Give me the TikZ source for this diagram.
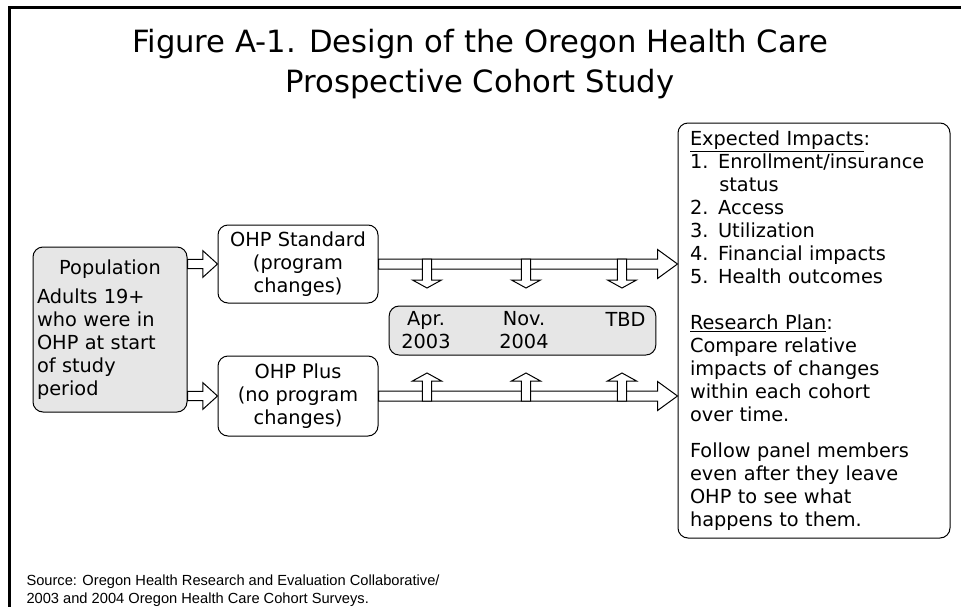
\documentclass[tikz,border=0pt]{standalone}
\usepackage{fontspec}
\setmainfont{DejaVu Sans}
\newfontfamily\srcfont{Liberation Sans}
\usetikzlibrary{calc}

\tikzset{
	head length/.store in=\baLength, 
	head length = 15pt,
	head half/.store in=\baHalf, 
	head half = 10.9pt,
	shaft half/.store in=\baShaft, 
	shaft half = 3.75pt}
\tikzset{every picture/.style={line width=0.75pt}}
\tikzset{
	blockarrow/.style={fill=white, to path={
		($(\tikztostart)!\baShaft!90:(\tikztotarget)$)
		-- ($(\tikztotarget)!\baLength!(\tikztostart)!\baShaft!90:(\tikztotarget)$)
		-- ($(\tikztotarget)!\baLength!(\tikztostart)!\baHalf!90:(\tikztotarget)$)
		-- (\tikztotarget)
		-- ($(\tikztotarget)!\baLength!(\tikztostart)!\baHalf!-90:(\tikztotarget)$)
		-- ($(\tikztotarget)!\baLength!(\tikztostart)!\baShaft!-90:(\tikztotarget)$)
		-- ($(\tikztostart)!\baShaft!-90:(\tikztotarget)$) -- cycle}}}

\begin{document}
\begin{tikzpicture}[x=0.75pt,y=0.75pt,yscale=-1,xscale=1,
	rbox/.style={draw, rounded corners=7.5pt, inner sep=0pt, align=center, font=\fontsize{14.5}{17.25}\selectfont},
	graybox/.style={rbox, fill={rgb, 255:red, 230; green, 230; blue, 230 }},
	datetext/.style={align=center, inner sep=0.75pt, font=\fontsize{14.5}{17.25}\selectfont}]
	\useasboundingbox (0,0) rectangle (961,607);
	
	%Straight Lines [frame] 
	\draw [line width=2.25pt]  (961,7.5) -- (9.5,7.5) -- (9.5,607) ;
	
	% Text Node
	\draw (480,64) node (title) [align=center, font=\fontsize{23}{30}\selectfont] {Figure A-1. Design of the Oregon Health Care\\Prospective Cohort Study};
	
	%Shape: Rounded Rect [population] 
	\draw (110,329.5) node (pop) [graybox, minimum width=115.5pt, minimum height=123.75pt, text width=109.5pt, align=left] {\makebox[\linewidth]{Population}\\[5pt]Adults 19+\\who were in\\OHP at start\\of study\\period};
	%Shape: Rounded Rect [cohorts] 
	\draw (298,264) node (std) [rbox, minimum width=120pt, minimum height=58.5pt] {OHP Standard\\(program\\changes)};
	\draw (298,396) node (plus) [rbox, minimum width=120pt, minimum height=60pt] {OHP Plus\\(no program\\changes)};
	%Shape: Rounded Rect [survey waves] 
	\draw (522.5,330.5) node (dates) [graybox, minimum width=200pt, minimum height=36.75pt] {};
	%Shape: Rounded Rect [impacts] 
	\draw (814,330.5) node (impacts) [rbox, minimum width=204pt, minimum height=311.25pt, text width=186pt, align=left] {\underline{Expected Impacts}:\\1. Enrollment/insurance\\\hspace*{22pt}status\\2. Access\\3. Utilization\\4. Financial impacts\\5. Health outcomes\\[17pt]\underline{Research Plan}:\\Compare relative\\impacts of changes\\within each cohort\\over time.\\[10pt]Follow panel members\\even after they leave\\OHP to see what\\happens to them.};
	
	% Text Node
	\draw (426,330.5) node (apr) [datetext] {Apr.\\2003};
	% Text Node
	\draw (524,330.5) node (nov) [datetext] {Nov.\\2004};
	% Text Node
	\draw (625.5,319) node (tbd) [datetext] {TBD};
	
	\coordinate (stdend) at (std -| impacts.west);
	\coordinate (plusend) at (plus -| impacts.west);
	\coordinate (dn1) at (427,259);
	\coordinate (dn1tip) at (427,288);
	\coordinate (dn2) at (526,259);
	\coordinate (dn2tip) at (526,288);
	\coordinate (dn3) at (622,259);
	\coordinate (dn3tip) at (622,288);
	\coordinate (up1) at (427,401);
	\coordinate (up1tip) at (427,373);
	\coordinate (up2) at (526,401);
	\coordinate (up2tip) at (526,373);
	\coordinate (up3) at (622,401);
	\coordinate (up3tip) at (622,373);
	
	%Block Arrows [population to cohorts] 
	\draw [blockarrow, head length=11pt, head half=10pt, shaft half=3.4pt]  (pop.east |- std) to (std.west) ;
	\draw [blockarrow, head length=11pt, head half=10pt, shaft half=3.4pt]  (pop.east |- plus) to (plus.west) ;
	%Block Arrows [cohorts to impacts] 
	\draw [blockarrow]  (std.east) to (stdend) ;
	\draw [blockarrow]  (plus.east) to (plusend) ;
	%Block Arrows [survey waves] 
	\draw [blockarrow, head length=6pt, shaft half=3.4pt]  (dn1) to (dn1tip) ;
	\draw [blockarrow, head length=6pt, shaft half=3.4pt]  (dn2) to (dn2tip) ;
	\draw [blockarrow, head length=6pt, shaft half=3.4pt]  (dn3) to (dn3tip) ;
	\draw [blockarrow, head length=6pt, shaft half=3.4pt]  (up1) to (up1tip) ;
	\draw [blockarrow, head length=6pt, shaft half=3.4pt]  (up2) to (up2tip) ;
	\draw [blockarrow, head length=6pt, shaft half=3.4pt]  (up3) to (up3tip) ;
	
	% Text Node
	\draw (25,591) node (source) [anchor=west, align=left, inner sep=0.75pt, font=\srcfont\fontsize{11}{13.5}\selectfont] {Source: Oregon Health Research and Evaluation Collaborative/\\2003 and 2004 Oregon Health Care Cohort Surveys.};
	
\end{tikzpicture}
\end{document}
